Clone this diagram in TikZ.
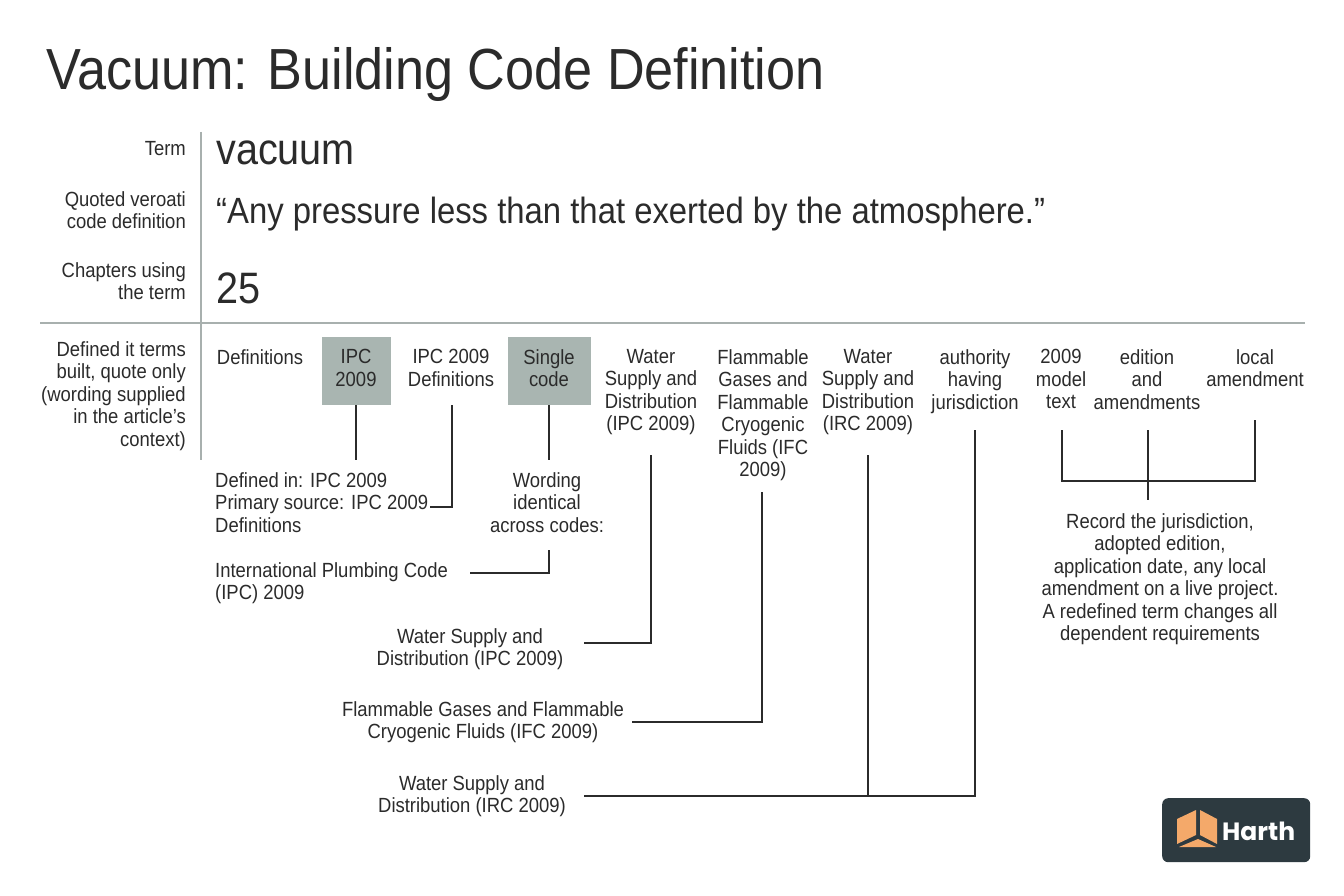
\documentclass[tikz,border=0pt]{standalone}
\usepackage{fontspec}
\setmainfont{Liberation Sans}[FakeStretch=0.9]
\newfontfamily\logofont{Poppins}
\definecolor{ink}{HTML}{2B2B2B}
\definecolor{boxg}{HTML}{A9B5B1}
\definecolor{rule}{HTML}{A8B0AE}
\definecolor{logobg}{HTML}{2D3A40}
\definecolor{cube}{HTML}{F4A96A}
\tikzset{
  t/.style={inner sep=0pt,align=center,font=\fontsize{20.5}{22.5}\selectfont,text=ink},
  lab/.style={t,align=right,anchor=north east},
  hd/.style={t,anchor=north},
  gbox/.style={fill=boxg},
  con/.style={draw=ink,line width=1.2pt},
}
\begin{document}
\begin{tikzpicture}[x=1pt,y=-1pt]
\useasboundingbox[fill=white] (0,0) rectangle (1344,896);
\node[t,anchor=base west,font=\fontsize{58}{60}\selectfont] (title) at (46,90) {Vacuum: Building Code Definition};
\draw[rule,line width=2pt] (201,132) -- (201,460);
\draw[rule,line width=2pt] (40,323) -- (1305,323);
\node[lab] (l1) at (186,141) {Term};
\node[lab] (l2) at (186,191) {Quoted veroati\\code definition};
\node[lab] (l3) at (186,262) {Chapters using\\the term};
\node[lab] (l4) at (186,341) {Defined it terms\\built, quote only\\(wording supplied\\in the article's\\context)};
\node[t,anchor=west,font=\fontsize{44}{46}\selectfont] (v1) at (216,153) {vacuum};
\node[t,anchor=west,font=\fontsize{36.5}{38}\selectfont] (v2) at (216,214) {“Any pressure less than that exerted by the atmosphere.”};
\node[t,anchor=west,font=\fontsize{44}{46}\selectfont] (v3) at (216,288) {25};
% header boxes
\fill[gbox] (322,337) rectangle (391,405);
\fill[gbox] (508,337) rectangle (591,405);
\node[hd] (h1) at (260,349) {Definitions};
\node[hd] (h2) at (356,349) {IPC\\2009};
\node[hd] (h3) at (451,349) {IPC 2009\\Definitions};
\node[hd] (h4) at (549,349) {Single\\code};
\node[hd] (h5) at (651,349) {Water\\Supply and\\Distribution\\(IPC 2009)};
\node[hd] (h6) at (763,349) {Flammable\\Gases and\\Flammable\\Cryogenic\\Fluids (IFC\\2009)};
\node[hd] (h7) at (868,349) {Water\\Supply and\\Distribution\\(IRC 2009)};
\node[hd] (h8) at (975,349) {authority\\having\\jurisdiction};
\node[hd] (h9) at (1061,349) {2009\\model\\text};
\node[hd] (h10) at (1147,349) {edition\\and\\amendments};
\node[hd] (h11) at (1255,349) {local\\amendment};
% lower texts
\node[t,align=left,anchor=north west] (d1) at (215,472) {Defined in: IPC 2009\\Primary source: IPC 2009\\Definitions};
\node[t,anchor=north] (d2) at (547,472) {Wording\\identical\\across codes:};
\node[t,align=left,anchor=north west] (d3) at (215,562) {International Plumbing Code\\(IPC) 2009};
\node[t,anchor=north] (d4) at (470,628) {Water Supply and\\Distribution (IPC 2009)};
\node[t,anchor=north] (d5) at (483,701) {Flammable Gases and Flammable\\Cryogenic Fluids (IFC 2009)};
\node[t,anchor=north] (d6) at (472,775) {Water Supply and\\Distribution (IRC 2009)};
\node[t,anchor=north] (d7) at (1160,513) {Record the jurisdiction,\\adopted edition,\\application date, any local\\amendment on a live project.\\A redefined term changes all\\dependent requirements};
% connectors
\coordinate (c1) at (356,460);
\draw[con] (356,405) -- (c1);
\coordinate (c2) at (430,507);
\draw[con] (452,405) |- (c2);
\coordinate (c3) at (549,460);
\draw[con] (549,405) -- (c3);
\coordinate (c4) at (470,573);
\draw[con] (549,550) |- (c4);
\coordinate (c5) at (584,643);
\draw[con] (651,455) |- (c5);
\coordinate (c6) at (632,722);
\draw[con] (762,492) |- (c6);
\coordinate (c7) at (584,796);
\draw[con] (868,455) -- (868,796);
\draw[con] (975,430) |- (c7);
\draw[con] (1062,430) |- (1255,481) -- (1255,420);
\draw[con] (1148,430) -- (1148,500);
% logo
\node[fill=logobg,rounded corners=6pt,minimum width=148pt,minimum height=64pt,anchor=north west] (logo) at (1162,798) {};
\fill[cube] (1177,819) -- (1196,810) -- (1196,835) -- (1177,844) -- cycle;
\fill[cube] (1200,810) -- (1217,819) -- (1217,844) -- (1200,835) -- cycle;
\fill[cube] (1179,847) -- (1198,839) -- (1216,847) -- cycle;
\node[inner sep=0pt,anchor=west,text=white,font=\logofont\bfseries\fontsize{25}{26}\selectfont] (lt) at (1222,831) {Harth};
\end{tikzpicture}
\end{document}
